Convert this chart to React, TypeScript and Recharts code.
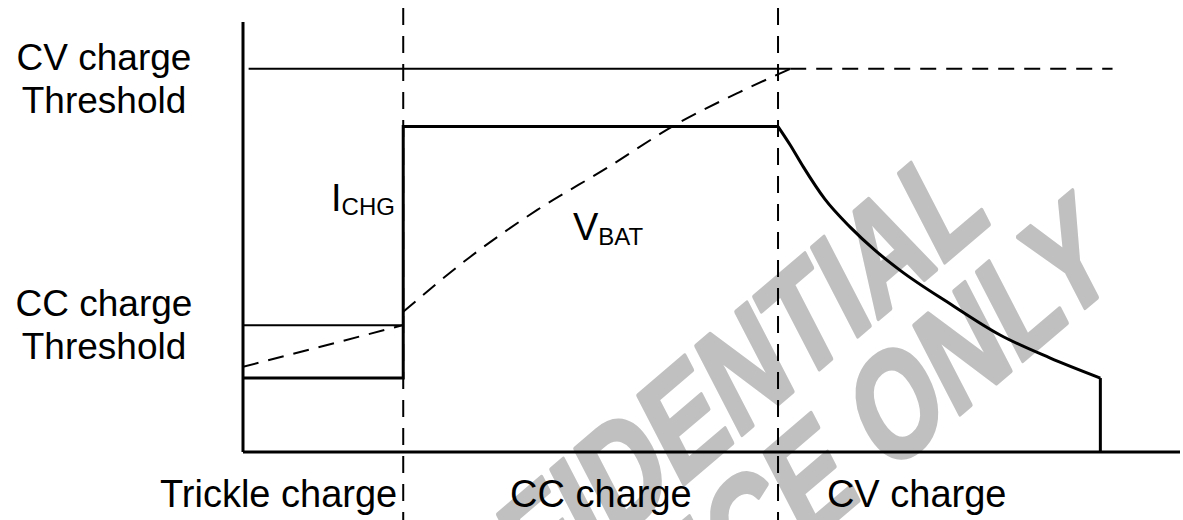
import React from "react";
import { ComposedChart, Line, XAxis, YAxis, ReferenceLine } from "recharts";

// chart values (x: time 0..100, y: level 0..100)
const PHASE_BOUNDS = [17.1, 57.1];
const PHASE_LABELS = ["Trickle charge", "CC charge", "CV charge"];
const PHASE_LABEL_POS = [3.8, 38.2, 71.9];

const THRESHOLD_VALUES = [89.1, 29.5];
const THRESHOLD_LABELS = [
  ["CV charge", "Threshold"],
  ["CC charge", "Threshold"],
];
const CV_THRESHOLD_SPAN = [0.6, 58.4];
const CC_THRESHOLD_SPAN = [0, 17.1];

const ICHG_STEP_X = [0, 17.1, 17.1, 57.1];
const ICHG_STEP_Y = [17.2, 17.2, 75.7, 75.7];
const ICHG_DECAY_X = [57.1, 58.4, 59.8, 62.1, 64.8, 67.4, 70.1, 75.5, 80.8, 86.1, 91.5];
const ICHG_DECAY_Y = [75.7, 71.4, 66.3, 58.8, 52.3, 47.0, 42.3, 34.4, 27.2, 21.9, 17.2];
const ICHG_END_X = [91.5, 91.5];
const ICHG_END_Y = [17.2, 0];

const VBAT_TRICKLE_X = [0, 17.1];
const VBAT_TRICKLE_Y = [19.8, 29.5];
const VBAT_CC_X = [17.1, 24.2, 31.4, 38.8, 46.3, 53.0, 58.4];
const VBAT_CC_Y = [32.6, 45.3, 56.3, 66.0, 76.3, 83.7, 89.1];
const VBAT_CV_X = [58.4, 92.8];
const VBAT_CV_Y = [89.1, 89.1];

const WATERMARK = ["CONFIDENTIAL", "FOR REFERENCE ONLY"];

// styling
const W = 1183;
const H = 520;
const FONT = "'Liberation Sans', Arial, sans-serif";
const DASH = "16 10";
const LABEL_X = 104;
const LABEL_SHIFT = [1, -9];
const WM_MATRIX = [0.87, -0.74, 0.667, 1.29];
const WM_ANCHORS = [
  [992, 222],
  [1120, 278],
];

const pts = (xs: number[], ys: number[]) => xs.map((x, i) => ({ x, y: ys[i] }));

const PhaseTick = (props: any) => {
  const i = PHASE_LABEL_POS.indexOf(props.payload?.value);
  return (
    <text x={props.x} y={507} textAnchor="middle" fontSize={38} fill="#000" fontFamily={FONT}>
      {PHASE_LABELS[i]}
    </text>
  );
};

const ThresholdTick = (props: any) => {
  const i = THRESHOLD_VALUES.indexOf(props.payload?.value);
  if (i < 0) return null;
  const [a, b] = THRESHOLD_LABELS[i];
  return (
    <text y={props.y + LABEL_SHIFT[i]} textAnchor="middle" fontSize={37} fill="#000" fontFamily={FONT}>
      <tspan x={LABEL_X}>{a}</tspan>
      <tspan x={LABEL_X} dy={43}>
        {b}
      </tspan>
    </text>
  );
};

const PhaseDivider = (p: any) => (
  <line x1={p.x1} x2={p.x1} y1={8} y2={H} stroke="#000" strokeWidth={2} strokeDasharray="17 11" />
);

const thick = { stroke: "#000", strokeWidth: 3, dot: false, activeDot: false, isAnimationActive: false, legendType: "none" as const };

export default function App() {
  return (
    <div style={{ position: "absolute", left: 0, top: 0, width: W, height: H, background: "#fff" }}>
      <svg width={W} height={H} style={{ position: "absolute", left: 0, top: 0 }}>
        {WATERMARK.map((t, i) => (
          <text
            key={t}
            transform={`matrix(${WM_MATRIX.join(" ")} ${WM_ANCHORS[i][0]} ${WM_ANCHORS[i][1]})`}
            textAnchor="end"
            fontSize={100}
            fontWeight="bold"
            fontFamily={FONT}
            fill="#c0c0c0"
            stroke="#c0c0c0"
            strokeWidth={3}
            strokeLinejoin="round"
          >
            {t}
          </text>
        ))}
      </svg>
      <div style={{ position: "absolute", left: 0, top: 0 }}>
        <ComposedChart width={W} height={H} margin={{ top: 22, right: 3, bottom: 0, left: 183 }}>
          <XAxis
            type="number"
            dataKey="x"
            domain={[0, 100]}
            ticks={PHASE_LABEL_POS}
            interval={0}
            tick={PhaseTick}
            tickLine={false}
            axisLine={{ stroke: "#000", strokeWidth: 3 }}
            height={68}
            allowDataOverflow
          />
          <YAxis
            type="number"
            dataKey="y"
            domain={[0, 100]}
            ticks={THRESHOLD_VALUES}
            interval={0}
            tick={ThresholdTick}
            tickLine={false}
            axisLine={{ stroke: "#000", strokeWidth: 3 }}
            width={60}
            allowDataOverflow
          />
          {PHASE_BOUNDS.map((b) => (
            <ReferenceLine key={b} x={b} ifOverflow="visible" shape={PhaseDivider} />
          ))}
          <ReferenceLine
            segment={[
              { x: CV_THRESHOLD_SPAN[0], y: THRESHOLD_VALUES[0] },
              { x: CV_THRESHOLD_SPAN[1], y: THRESHOLD_VALUES[0] },
            ]}
            stroke="#000"
            strokeWidth={2}
            ifOverflow="visible"
          />
          <ReferenceLine
            segment={[
              { x: CC_THRESHOLD_SPAN[0], y: THRESHOLD_VALUES[1] },
              { x: CC_THRESHOLD_SPAN[1], y: THRESHOLD_VALUES[1] },
            ]}
            stroke="#000"
            strokeWidth={2}
            ifOverflow="visible"
          />
          <Line data={pts(VBAT_TRICKLE_X, VBAT_TRICKLE_Y)} dataKey="y" type="linear" {...thick} strokeWidth={2} strokeDasharray={DASH} />
          <Line data={pts(VBAT_CC_X, VBAT_CC_Y)} dataKey="y" type="monotone" {...thick} strokeWidth={2} strokeDasharray={DASH} />
          <Line data={pts(VBAT_CV_X, VBAT_CV_Y)} dataKey="y" type="linear" {...thick} strokeWidth={2} strokeDasharray={DASH} />
          <Line data={pts(ICHG_STEP_X, ICHG_STEP_Y)} dataKey="y" type="linear" {...thick} />
          <Line data={pts(ICHG_DECAY_X, ICHG_DECAY_Y)} dataKey="y" type="monotone" {...thick} />
          <Line data={pts(ICHG_END_X, ICHG_END_Y)} dataKey="y" type="linear" {...thick} />
        </ComposedChart>
      </div>
      <svg width={W} height={H} style={{ position: "absolute", left: 0, top: 0, pointerEvents: "none" }}>
        <text x={331} y={211} fontSize={38} fontFamily={FONT} fill="#000">
          I<tspan fontSize={24} dy={4}>CHG</tspan>
        </text>
        <text x={573} y={240} fontSize={38} fontFamily={FONT} fill="#000">
          V<tspan fontSize={24} dy={5}>BAT</tspan>
        </text>
      </svg>
    </div>
  );
}
